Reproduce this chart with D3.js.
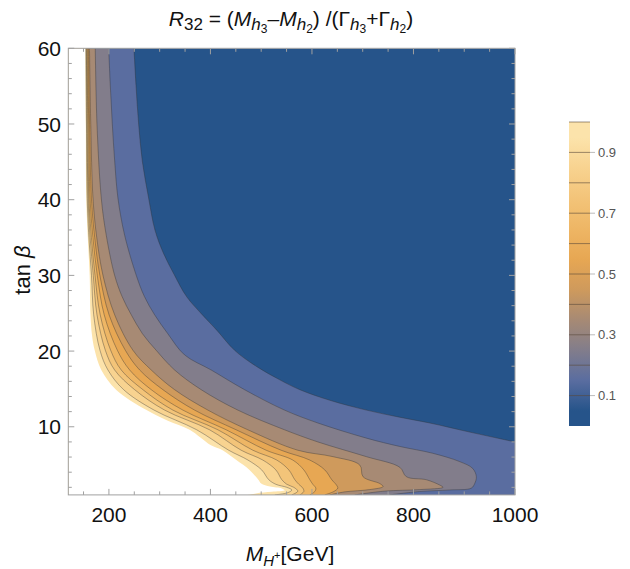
<!DOCTYPE html>
<html>
<head>
<meta charset="utf-8">
<script src="https://cdn.jsdelivr.net/npm/d3@7"></script>
<style>
  body { margin: 0; background: #fff; font-family: "Liberation Sans", Arial, sans-serif; }
</style>
</head>
<body>
<svg id="chart" width="630" height="569"></svg>
<script>
// contour levels and the fill of the band just above each level
const levels = [0.1, 0.2, 0.3, 0.4, 0.5, 0.6, 0.7, 0.8, 0.9, 1.0]
const baseColor = '#26548a'   // band 0 - 0.1
const bandColors = ['#5a6da0', '#827d8b', '#a78a74', '#cf9a5c', '#e7a753',
                    '#eeb665', '#f3c479', '#f8d390', '#fce3ab', '#ffffff']
const barTicks = [0.1, 0.3, 0.5, 0.7, 0.9]
const xMajor = [200, 400, 600, 800, 1000]
const yMajor = [10, 20, 30, 40, 50, 60]

// contour lines, [M_H+, tan beta]
const contour01 = [[249.3,60],[253.5,55],[258.6,50],[266,45],[278.3,40.2],[290.7,36],[307,33],[329.4,30],[353,27.2],
  [381.2,25],[412,22.8],[447.6,20.1],[490,18],[536.7,16.2],[576.1,14.9],[635.2,13.5],[707.4,12.2],[770,11.3],
  [832,10.5],[910.8,9.3],[1000,8.0]]
const contour02 = [[199.5,60],[202.8,55],[206.6,50.1],[211.5,45],[217.8,40.2],[231,35.3],[253.9,30],[270,27.2],
  [290,24.8],[316,22.3],[349,19.5],[401.5,17.5],[467.2,14.9],[546,12.2],[611.6,10.5],[707.4,8.5],[773,7.4],
  [838,6.5],[891,5.4],[916.6,4.5],[923.9,3.4],[920.6,2.5],[914.1,1.9],[871.4,1.65],[812.3,1.45],[753.3,1.0]]
const contour03 = [[173.1,60],[176.5,50],[185,40.2],[194.8,35.3],[211.3,30],[226,27.2],[244,24.8],[266,22.3],
  [293.2,20.1],[329.4,17.5],[381.8,14.9],[454,12.2],[546,9.6],[611.5,8.0],[707.4,6.05],[773,4.65],[786.1,3.4],
  [825.5,3.0],[851.7,2.3],[858.2,2.0],[812.3,1.7],[743.4,1.5],[684.4,1.0]]
const contour04 = [[161.7,60],[164.2,50],[168.6,40.2],[176,35],[188.3,30],[211.3,24.8],[247.4,20.1],[283.4,17.5],
  [329.4,14.9],[395,12.2],[473.7,9.6],[572.2,6.9],[641.6,6.05],[694.2,4.95],[700.7,3.4],[733.6,2.5],[740.1,2.1],
  [713.9,1.7],[664.7,1.4],[635.2,1.0]]
const contour05 = [[159.8,60],[162,50],[165.5,40.2],[172,35],[182.2,30],[200.3,24.8],[232.4,20.1],[260.6,17.5],
  [306.4,14.9],[368.8,12.2],[450.7,9.6],[539.3,6.9],[595.8,5.6],[625.3,4.3],[639.1,3.0],[648.3,2.3],[650.9,1.9],
  [643.1,1.45],[625.3,1.0]]
const contour06 = [[158.2,60],[160.2,50],[162.9,40.2],[168.5,35],[177.1,30],[190.7,24.8],[216.7,20.1],[240.9,17.5],
  [283.4,14.9],[345.8,12.2],[431,9.6],[509.8,6.9],[562.3,5.6],[584,4.3],[595.8,3.0],[601.7,2.4],[607.6,1.9],
  [605.6,1.45],[595.8,1.0]]
const contour07 = [[156.8,60],[158.5,50],[160.7,40.2],[165.5,35],[172.6,30],[182.8,24.8],[203.5,20.1],[224.3,17.5],
  [267,14.9],[326.1,12.2],[414.7,9.6],[483.6,6.9],[530.8,5.6],[554.4,4.3],[566.3,3.0],[574.1,2.4],[582,1.9],
  [584,1.45],[576.1,1.0]]
const contour08 = [[155.6,60],[157,50],[159,40.2],[163,35],[169.2,30],[176.5,24.8],[193,20.1],[211.3,17.5],
  [250.7,14.9],[309.8,12.2],[398.3,9.6],[460.6,6.9],[503.3,5.6],[528.9,4.3],[540.7,3.0],[550.5,2.4],[564.3,2.0],
  [572.2,1.5],[560.3,1.0]]
const contour09 = [[154.6,60],[155.8,50],[157.2,40.2],[160.6,35],[165.7,30],[170,24.8],[182.4,20.1],[198.1,17.5],
  [229,14.9],[289,12.2],[373,9.6],[436,6.9],[474,5.6],[501,4.3],[515,3.0],[528.9,2.4],[550.5,2.0],[560.3,1.65],
  [552.5,1.3],[526.9,1.0]]
const contour10 = [[153.5,60],[154.4,50],[155.4,40.2],[158.4,35],[162.1,30],[163.7,24.8],[166.7,22.1],[172,20.1],
  [185,17.5],[214,14.9],[274,12.2],[316,10.8],[359,9.6],[400,7.6],[424,6.9],[451,5.6],[477,4.3],[494.4,3.0],
  [499.9,2.5],[517.4,2.1],[540.7,1.85],[546.6,1.6],[521,1.4],[489.5,1.2],[473.7,1.0]]
const contours = [contour01, contour02, contour03, contour04, contour05,
                  contour06, contour07, contour08, contour09, contour10]

const svg = d3.select('#chart')
const x = d3.scaleLinear().domain([120, 1000]).range([68.3, 515])
const y = d3.scaleLinear().domain([1, 60]).range([494.9, 48.3])
const frameColor = '#a0a0a0'

svg.append('defs').append('clipPath').attr('id', 'plotClip')
  .append('rect')
  .attr('x', x(120)).attr('y', y(60))
  .attr('width', x(1000) - x(120)).attr('height', y(1) - y(60))

const plot = svg.append('g').attr('clip-path', 'url(#plotClip)')

plot.append('rect')
  .attr('x', x(120)).attr('y', y(60))
  .attr('width', x(1000) - x(120)).attr('height', y(1) - y(60))
  .attr('fill', baseColor)

const line = d3.line()
  .x(d => x(d[0]))
  .y(d => y(d[1]))
  .curve(d3.curveCatmullRom.alpha(0.5))

// region above each level = left/below the contour line
contours.forEach((pts, i) => {
  let corners = [[120, 1], [120, 60]]
  if (pts[pts.length - 1][0] >= 1000) corners = [[1000, 1]].concat(corners)
  let d = line(pts) + corners.map(c => 'L' + x(c[0]) + ',' + y(c[1])).join('') + 'Z'
  plot.append('path')
    .attr('d', d)
    .attr('fill', bandColors[i])
})

// contour lines (not the 1.0 edge)
plot.selectAll('.cline')
  .data(contours.slice(0, 9))
  .join('path')
  .attr('class', 'cline')
  .attr('d', d => line(d))
  .attr('fill', 'none')
  .attr('stroke', '#333')
  .attr('stroke-opacity', 0.55)
  .attr('stroke-width', 0.7)

// frame + ticks
const frame = svg.append('g')
frame.append('rect')
  .attr('x', x(120)).attr('y', y(60))
  .attr('width', x(1000) - x(120)).attr('height', y(1) - y(60))
  .attr('fill', 'none').attr('stroke', frameColor).attr('stroke-width', 1)

const xMinor = d3.range(150, 1000, 50).filter(v => !xMajor.includes(v))
const yMinor = d3.range(2, 60, 2).filter(v => !yMajor.includes(v))

function xTicks(vals, len) {
  vals.forEach(v => {
    frame.append('line').attr('x1', x(v)).attr('x2', x(v))
      .attr('y1', y(1)).attr('y2', y(1) - len).attr('stroke', frameColor)
    frame.append('line').attr('x1', x(v)).attr('x2', x(v))
      .attr('y1', y(60)).attr('y2', y(60) + len).attr('stroke', frameColor)
  })
}
function yTicks(vals, len) {
  vals.forEach(v => {
    frame.append('line').attr('y1', y(v)).attr('y2', y(v))
      .attr('x1', x(120)).attr('x2', x(120) + len).attr('stroke', frameColor)
    frame.append('line').attr('y1', y(v)).attr('y2', y(v))
      .attr('x1', x(1000)).attr('x2', x(1000) - len).attr('stroke', frameColor)
  })
}
xTicks(xMajor, 6)
xTicks(xMinor, 3.5)
yTicks(yMajor, 6)
yTicks(yMinor, 3.5)

svg.append('g').selectAll('text')
  .data(xMajor)
  .join('text')
  .attr('x', d => x(d))
  .attr('y', 522)
  .attr('text-anchor', 'middle')
  .attr('font-size', 21)
  .attr('fill', '#111')
  .text(d => d)

svg.append('g').selectAll('text')
  .data(yMajor)
  .join('text')
  .attr('x', 61)
  .attr('y', d => y(d))
  .attr('dy', '0.36em')
  .attr('text-anchor', 'end')
  .attr('font-size', 21)
  .attr('fill', '#111')
  .text(d => d)

// axis titles
const xt = svg.append('text')
  .attr('x', 290).attr('y', 561)
  .attr('text-anchor', 'middle')
  .attr('font-size', 21)
  .attr('fill', '#111')
xt.append('tspan').attr('font-style', 'italic').text('M')
xt.append('tspan').attr('font-style', 'italic').attr('font-size', 15).attr('dy', 5).text('H')
xt.append('tspan').attr('font-size', 11).attr('dy', -7).text('+')
xt.append('tspan').attr('dy', 2).text('[GeV]')

const yt = svg.append('text')
  .attr('transform', 'translate(30,270) rotate(-90)')
  .attr('text-anchor', 'middle')
  .attr('font-size', 22)
  .attr('fill', '#111')
yt.append('tspan').text('tan ')
yt.append('tspan').attr('font-style', 'italic').text('β')

// title
const tt = svg.append('text')
  .attr('x', 291).attr('y', 26)
  .attr('text-anchor', 'middle')
  .attr('font-size', 21)
  .attr('fill', '#111')
tt.append('tspan').attr('font-style', 'italic').text('R')
tt.append('tspan').attr('font-size', 17).attr('dy', 4).text('32')
tt.append('tspan').attr('dy', -4).text(' = (')
tt.append('tspan').attr('font-style', 'italic').text('M')
tt.append('tspan').attr('font-style', 'italic').attr('font-size', 17).attr('dy', 4).text('h')
tt.append('tspan').attr('font-size', 12).attr('dy', 3).text('3')
tt.append('tspan').attr('dy', -7).text('–')
tt.append('tspan').attr('font-style', 'italic').text('M')
tt.append('tspan').attr('font-style', 'italic').attr('font-size', 17).attr('dy', 4).text('h')
tt.append('tspan').attr('font-size', 12).attr('dy', 3).text('2')
tt.append('tspan').attr('dy', -7).text(') /(Γ')
tt.append('tspan').attr('font-style', 'italic').attr('font-size', 17).attr('dy', 4).text('h')
tt.append('tspan').attr('font-size', 12).attr('dy', 3).text('3')
tt.append('tspan').attr('dy', -7).text('+Γ')
tt.append('tspan').attr('font-style', 'italic').attr('font-size', 17).attr('dy', 4).text('h')
tt.append('tspan').attr('font-size', 12).attr('dy', 3).text('2')
tt.append('tspan').attr('dy', -7).text(')')

// colour bar
const barX = 569, barW = 21
const bar = d3.scaleLinear().domain([0, 1]).range([426, 122])
const grad = svg.select('defs').append('linearGradient')
  .attr('id', 'barGrad').attr('x1', 0).attr('y1', 1).attr('x2', 0).attr('y2', 0)
const allColors = [baseColor].concat(bandColors.slice(0, 9))
allColors.forEach((c, i) => {
  grad.append('stop').attr('offset', (i * 0.1 + 0.05)).attr('stop-color', c)
})
svg.append('rect')
  .attr('x', barX).attr('y', bar(1))
  .attr('width', barW).attr('height', bar(0) - bar(1))
  .attr('fill', 'url(#barGrad)')
svg.append('g').selectAll('line')
  .data(levels)
  .join('line')
  .attr('x1', barX).attr('x2', barX + barW)
  .attr('y1', d => bar(d)).attr('y2', d => bar(d))
  .attr('stroke', '#5a4a3a').attr('stroke-opacity', 0.6)
svg.append('g').selectAll('line')
  .data(barTicks)
  .join('line')
  .attr('x1', barX + barW).attr('x2', barX + barW + 5)
  .attr('y1', d => bar(d)).attr('y2', d => bar(d))
  .attr('stroke', '#bbb')
svg.append('g').selectAll('text')
  .data(barTicks)
  .join('text')
  .attr('x', 598)
  .attr('y', d => bar(d))
  .attr('dy', '0.36em')
  .attr('font-size', 13)
  .attr('fill', '#555')
  .text(d => d)
</script>
</body>
</html>
